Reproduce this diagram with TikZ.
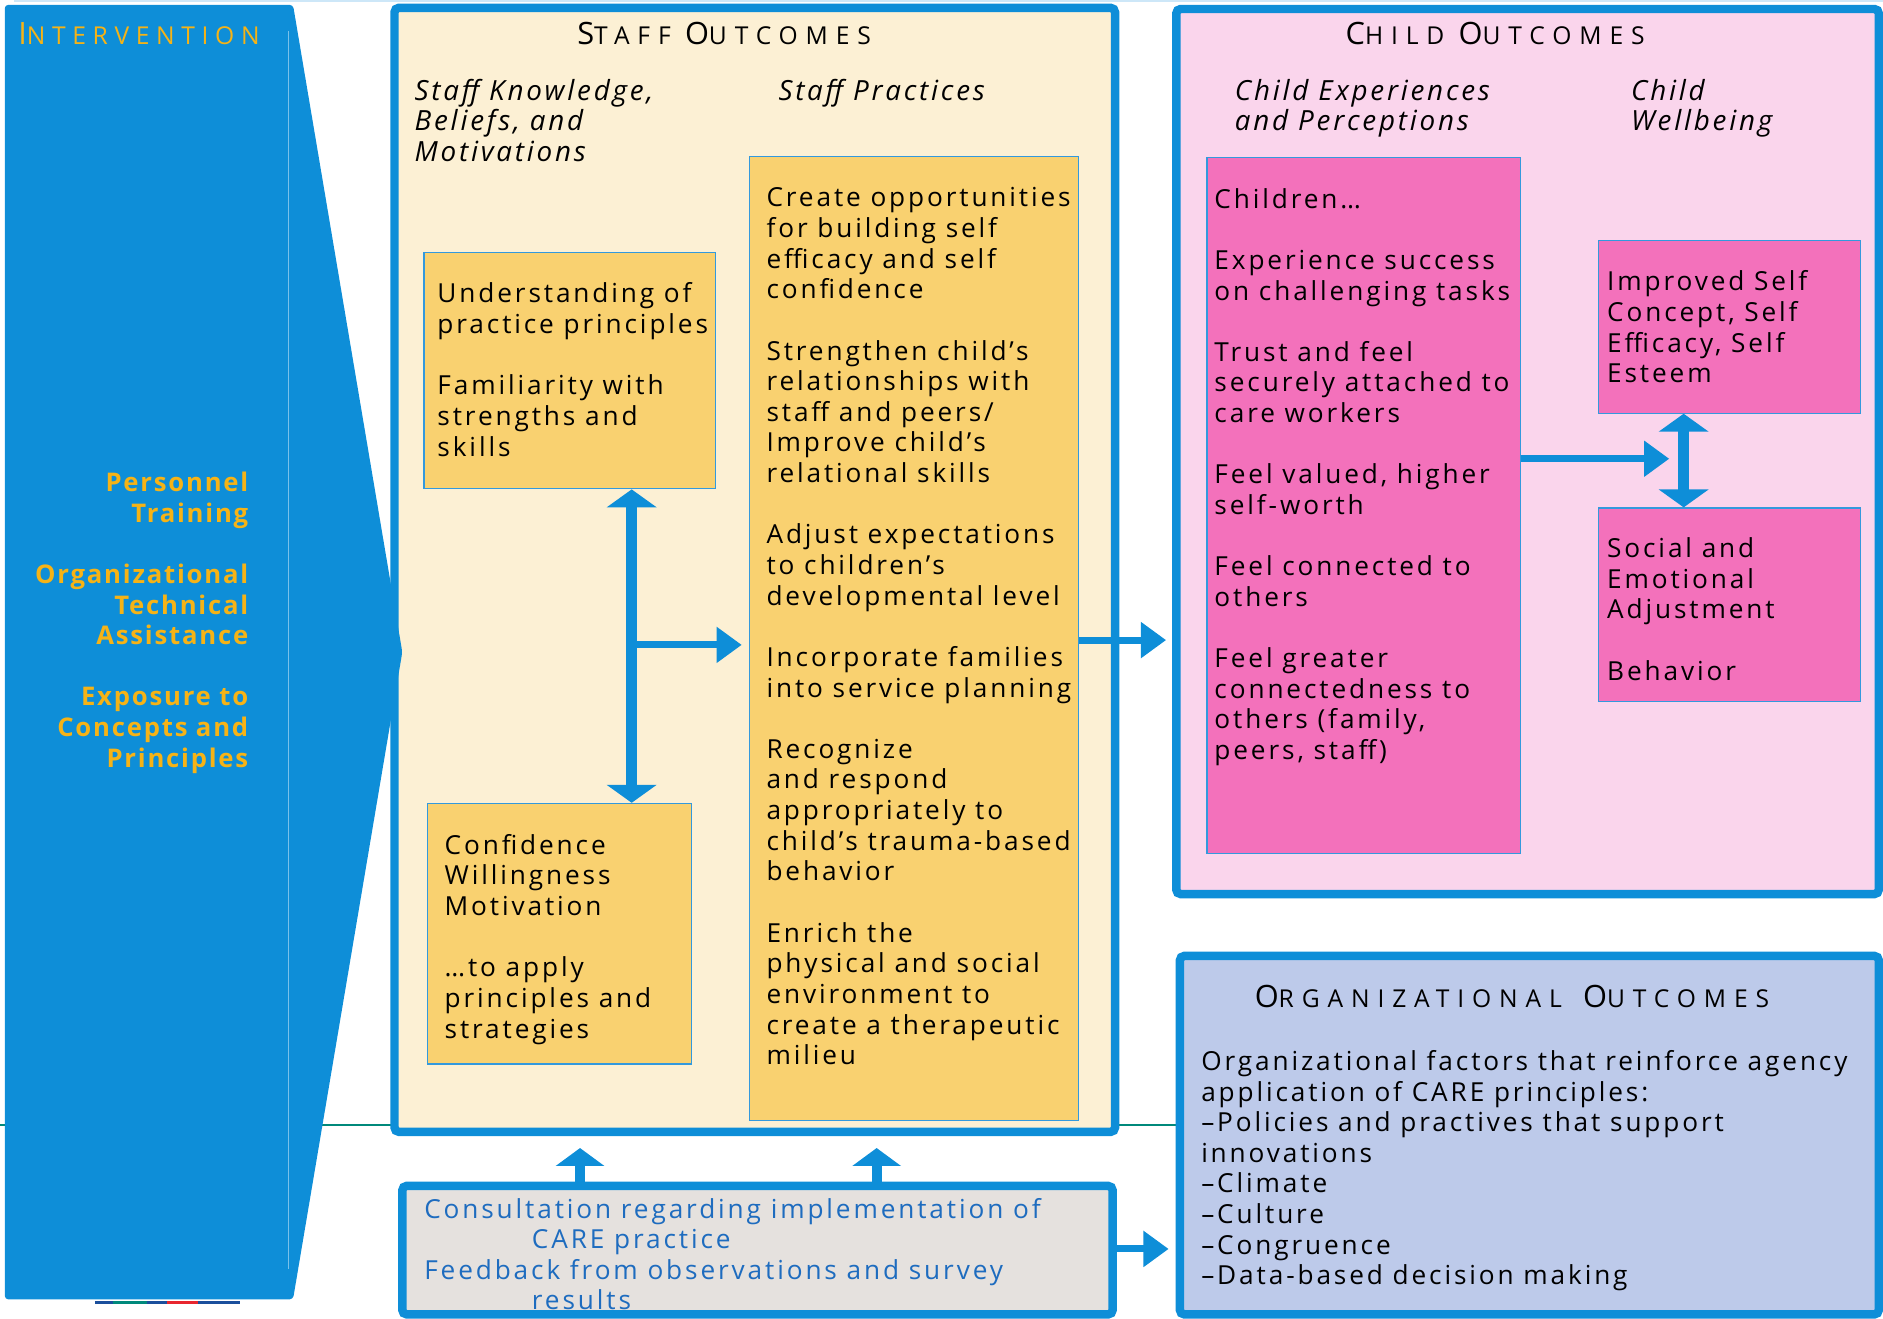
\documentclass[tikz,border=0pt]{standalone}
\usepackage{fontspec}
\setmainfont{Open Sans}[LetterSpace=11]
\usetikzlibrary{arrows.meta,fit}

\definecolor{careblue}{HTML}{0E8ED8}
\definecolor{edgeblue}{HTML}{3399DD}
\definecolor{gold}{HTML}{F6B316}
\definecolor{cream}{HTML}{FCF0D4}
\definecolor{amber}{HTML}{F9D170}
\definecolor{blush}{HTML}{FAD5EC}
\definecolor{rose}{HTML}{F371BB}
\definecolor{lavender}{HTML}{BDCAEA}
\definecolor{stone}{HTML}{E5E1DE}
\definecolor{linkblue}{HTML}{1E6CBF}
\definecolor{tealline}{HTML}{00897B}
\definecolor{paleblue}{HTML}{CDE7F8}
\definecolor{navy}{HTML}{1B4F9C}
\definecolor{flagred}{HTML}{E8262F}

\newcommand\bodysize{\fontsize{14.9}{17.42}\selectfont}
\newcommand\headfont{\fontsize{14}{17.42}\selectfont\addfontfeature{LetterSpace=32}}
\newcommand\capletter[1]{{\fontsize{17.5}{17.42}\selectfont #1}}
\newcommand\emptyrow{\\[17.42pt]}

\tikzset{
  outer/.style={draw=careblue, line width=4.8pt, rounded corners=2.5pt, inner sep=0pt},
  panel/.style={draw=edgeblue, line width=0.7pt, inner sep=0pt},
  txt/.style={anchor=north west, inner sep=0pt, align=left, font=\bodysize, yshift=12.19pt},
  head/.style={anchor=base, inner sep=0pt, font=\headfont},
  sub/.style={txt, font=\fontsize{15.8}{17.42}\selectfont\itshape\addfontfeature{LetterSpace=10}},
  harrow/.style={draw=careblue, line width=4pt, -{Triangle[width=19.7pt,length=14.3pt]}},
  uarrow/.style={draw=careblue, line width=5.8pt, -{Triangle[width=27.2pt,length=10.2pt]}},
  varrow/.style={draw=careblue, line width=6.1pt,
    {Triangle[width=27.9pt,length=10.2pt]}-{Triangle[width=27.9pt,length=10.2pt]}}
}

\begin{document}
\begin{tikzpicture}[x=0.024cm, y=-0.024cm]
\useasboundingbox (0,0) rectangle (1568,1098);

% background lines
\draw[paleblue, line width=1.2pt] (12,1) -- (1568,1);
\draw[tealline, line width=1pt] (0,937) -- (979,937);

% outcome frames
\node[outer, fill=cream, fit={(328.5,6.5) (928.5,942.5)}] (staff) {};
\node[outer, fill=blush, fit={(979.5,7.5) (1564.5,744.5)}] (child) {};
\node[outer, fill=lavender, fit={(982.5,796) (1564.5,1094.5)}] (org) {};
\node[outer, fill=stone, fit={(335,987.5) (926.5,1094.5)}] (cons) {};

% intervention panel
\fill[careblue, rounded corners=2pt] (4,4) -- (244,4) -- (335,543) -- (244,1082) -- (4,1082) -- cycle;
\draw[careblue!55!white, line width=0.5pt] (240,26) -- (240,1057);
\draw[navy, line width=1.8pt] (79,1084.5) -- (94,1084.5);
\draw[tealline, line width=1.8pt] (94,1084.5) -- (122,1084.5);
\draw[navy, line width=1.8pt] (122,1084.5) -- (139,1084.5);
\draw[flagred, line width=1.8pt] (139,1084.5) -- (165,1084.5);
\draw[navy, line width=1.8pt] (165,1084.5) -- (200,1084.5);

\node[anchor=base west, inner sep=0pt, font=\headfont\addfontfeature{LetterSpace=27}, text=gold] (inttitle) at (15,37)
  {\capletter{I}NTERVENTION};
\node[txt, anchor=north east, align=right, text=gold,
      font=\fontsize{14.6}{17.42}\selectfont\bfseries\addfontfeature{LetterSpace=7}] (inttxt) at (207,409)
  {\strut Personnel\\Training\emptyrow Organizational\\Technical\\Assistance\emptyrow
   Exposure to\\Concepts and\\Principles};

% staff outcomes
\node[head] (stafftitle) at (603,37) {\capletter{S}TAFF \capletter{O}UTCOMES};
\node[sub] (knowhead) at (345,83) {\strut Staff Knowledge,\\Beliefs, and\\Motivations};
\node[sub] (prachead) at (648,83) {\strut Staff Practices};

\node[panel, fill=amber, fit={(353,210) (596,407)}] (know) {};
\node[txt] (knowtxt) at (364,252)
  {\strut Understanding of\\practice principles\emptyrow Familiarity with\\strengths and\\skills};
\node[panel, fill=amber, fit={(356,669) (576,886)}] (will) {};
\node[txt] (willtxt) at (370,711)
  {\strut Confidence\\Willingness\\Motivation\emptyrow …to apply\\principles and\\strategies};
\node[panel, fill=amber, fit={(624,130) (898,933)}] (prac) {};
\node[txt] (practxt) at (638,172)
  {\strut Create opportunities\\for building self\\efficacy and self\\confidence\emptyrow
   Strengthen child’s\\relationships with\\staff and peers/\\Improve child’s\\relational skills\emptyrow
   Adjust expectations\\to children’s\\developmental level\emptyrow
   Incorporate families\\into service planning\emptyrow
   Recognize\\and respond\\appropriately to\\child’s trauma-based\\behavior\emptyrow
   Enrich the\\physical and social\\environment to\\create a therapeutic\\milieu};

% child outcomes
\node[head] (childtitle) at (1245,37) {\capletter{C}HILD \capletter{O}UTCOMES};
\node[sub] (exphead) at (1028,83) {\strut Child Experiences\\and Perceptions};
\node[sub] (wellhead) at (1358,83) {\strut Child\\Wellbeing};

\node[panel, fill=rose, fit={(1005,131) (1266,711)}] (exp) {};
\node[txt] (exptxt) at (1011,173)
  {\strut Children…\emptyrow Experience success\\on challenging tasks\emptyrow
   Trust and feel\\securely attached to\\care workers\emptyrow
   Feel valued, higher\\self-worth\emptyrow Feel connected to\\others\emptyrow
   Feel greater\\connectedness to\\others (family,\\peers, staff)};
\node[panel, fill=rose, fit={(1331,200) (1549,344)}] (self) {};
\node[txt] (selftxt) at (1338,242)
  {\strut Improved Self\\Concept, Self\\Efficacy, Self\\Esteem};
\node[panel, fill=rose, fit={(1331,423) (1549,584)}] (adjust) {};
\node[txt] (adjusttxt) at (1338,464)
  {\strut Social and\\Emotional\\Adjustment\emptyrow Behavior};

% organizational outcomes
\node[head] (orgtitle) at (1259,839) {\capletter{O}RGANIZATIONAL\hspace{4pt} \capletter{O}UTCOMES};
\node[txt] (orgtxt) at (1000,891)
  {\strut Organizational factors that reinforce agency\\application of CARE principles:\\
   –Policies and practives that support\\innovations\\–Climate\\–Culture\\–Congruence\\
   –Data-based decision making};

% consultation
\node[txt, text=linkblue] (constxt) at (353,1014)
  {\strut Consultation regarding implementation of\\\hspace*{61.2pt}CARE practice\\
   Feedback from observations and survey\\\hspace*{61.2pt}results};

% arrows
\coordinate (kx) at (526,0);
\coordinate (kfork) at (526,537);
\coordinate (scy) at (0,533);
\coordinate (ua) at (483,0);
\coordinate (ub) at (730,0);
\coordinate (coy) at (0,1040);
\coordinate (wx) at (1402,0);
\coordinate (cwy) at (0,382);

\draw[varrow] (know.south -| kx) -- (will.north -| kx);
\draw[harrow, shorten >=4pt] (kfork) -- (kfork -| prac.west);
\draw[harrow, shorten >=3.4pt] (prac.east |- scy) -- (child.west |- scy);
\draw[uarrow, shorten >=6.8pt] (cons.north -| ua) -- (staff.south -| ua);
\draw[uarrow, shorten >=6.8pt] (cons.north -| ub) -- (staff.south -| ub);
\draw[harrow, shorten >=4pt] (cons.east |- coy) -- (org.west |- coy);
\draw[harrow, shorten >=8.2pt] (exp.east |- cwy) -- (wx |- cwy);
\draw[varrow] (self.south -| wx) -- (adjust.north -| wx);

\end{tikzpicture}
\end{document}
